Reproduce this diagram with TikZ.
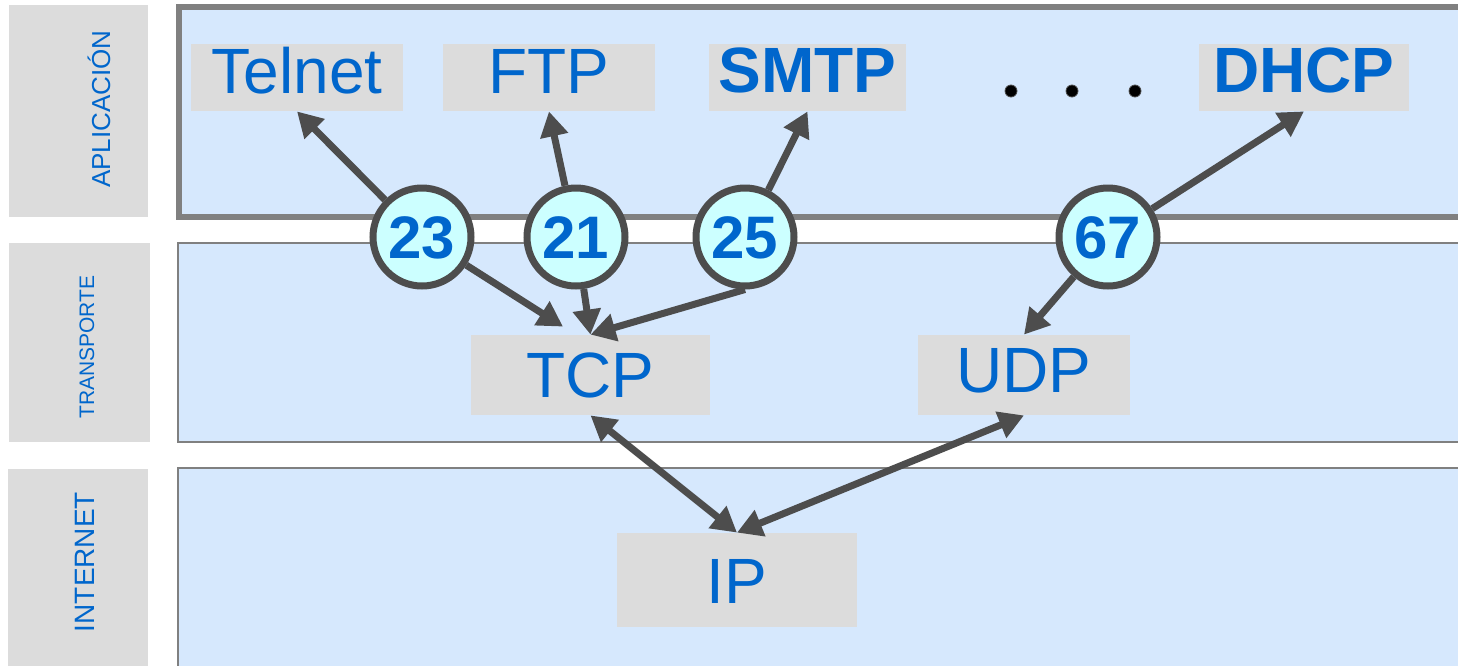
\documentclass[tikz,border=0pt]{standalone}
\usepackage{fontspec}
\setmainfont{Liberation Sans}
\usetikzlibrary{arrows.meta,calc}
\definecolor{panelblue}{RGB}{214,232,253}
\definecolor{boxgray}{RGB}{220,220,220}
\definecolor{txtblue}{RGB}{0,102,204}
\definecolor{framegray}{RGB}{128,128,128}
\definecolor{arrowgray}{RGB}{77,77,77}
\definecolor{circfill}{RGB}{204,255,255}
\tikzset{
  panel/.style={draw=framegray, fill=panelblue, line width=1pt},
  sidetext/.style={rotate=90, anchor=base, text=txtblue, inner sep=0pt},
  protobox/.style={fill=boxgray, draw=none, inner sep=0pt, text=txtblue,
    font=\fontsize{32pt}{32pt}\selectfont, text depth=0pt},
  protobold/.style={protobox, font=\bfseries\fontsize{32pt}{32pt}\selectfont},
  portcirc/.style={circle, draw=arrowgray, line width=3.5pt, fill=circfill,
    minimum size=49pt, inner sep=0pt, text=txtblue,
    font=\bfseries\fontsize{30pt}{30pt}\selectfont, text height=21pt, text depth=0pt},
  link/.style={draw=arrowgray, line width=3.5pt, -{Triangle[length=12.5pt,width=13.5pt]}},
  dlink/.style={draw=arrowgray, line width=3.5pt,
    {Triangle[length=12.5pt,width=13.5pt]}-{Triangle[length=12.5pt,width=13.5pt]}},
  dotmark/.style={fill=black, draw=arrowgray, line width=0.4pt}
}
\begin{document}
\begin{tikzpicture}[x=0.5pt,y=-0.5pt]
\useasboundingbox (0,0) rectangle (1458,665);
\clip (0,0) rectangle (1458,665);
\fill[white] (0,0) rectangle (1458,665);

% layer panels
\draw[panel, line width=3pt] (179,7) rectangle (1475,217);
\draw[panel] (178,243) rectangle (1475,442);
\draw[panel] (178,468) rectangle (1475,700);

% side label boxes
\fill[boxgray] (9,5) rectangle (148,217);
\fill[boxgray] (9,243) rectangle (150,442);
\fill[boxgray] (8,469) rectangle (148,700);
\node[sidetext, font=\fontsize{13pt}{13pt}\selectfont] (lapp) at (110,109) {APLICACIÓN};
\node[sidetext, font=\fontsize{10.5pt}{10.5pt}\selectfont] (ltra) at (94,347) {TRANSPORTE};
\node[sidetext, font=\fontsize{14pt}{14pt}\selectfont] (lint) at (94,562) {INTERNET};

% protocol boxes
\node[protobox, minimum width=106pt, minimum height=33.5pt, text height=15.5pt] (telnet) at (297,77.5) {Telnet};
\node[protobox, minimum width=106pt, minimum height=33.5pt, text height=15.5pt] (ftp) at (549,77.5) {FTP};
\node[protobold, minimum width=98.5pt, minimum height=33.5pt, text height=14.5pt] (smtp) at (807.5,77.5) {SMTP};
\node[protobold, minimum width=105pt, minimum height=33.5pt, text height=14.5pt] (dhcp) at (1304,77.5) {DHCP};
\node[protobox, minimum width=119.5pt, minimum height=40pt, text height=22pt] (tcp) at (590.5,375) {TCP};
\node[protobox, minimum width=106pt, minimum height=40pt, text height=17pt] (udp) at (1024,375) {UDP};
\node[protobox, minimum width=120pt, minimum height=47pt, text height=23pt] (ip) at (737,580) {IP};

% dots
\filldraw[dotmark] (1011,91) circle[radius=3pt];
\filldraw[dotmark] (1072,91) circle[radius=3pt];
\filldraw[dotmark] (1135,91) circle[radius=3pt];

% port circles
\node[portcirc] (c23) at (422,237) {23};
\node[portcirc] (c21) at (576,237) {21};
\node[portcirc] (c25) at (745,237) {25};
\node[portcirc] (c67) at (1108,237) {67};

% connectors
\coordinate (tcpin) at ($(tcp.north)+(-27.5,-8)$);
\draw[link] (c23) -- (telnet.south);
\draw[link] (c21) -- (ftp.south);
\draw[link] (c25) -- (smtp.south);
\draw[link] (c67) -- (dhcp.south);
\draw[link] (c23) -- (tcpin);
\draw[link] (c21) -- (tcp.north);
\draw[link] (c25.south) -- (tcp.north);
\draw[link] (c67) -- (udp.north);
\draw[dlink] (tcp.south) -- (ip.north);
\draw[dlink] (udp.south) -- (ip.north);
\end{tikzpicture}
\end{document}
